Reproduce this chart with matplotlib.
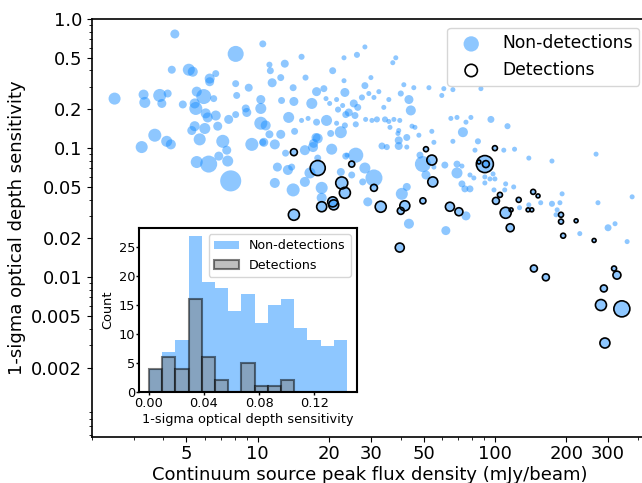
import numpy as np
import matplotlib
matplotlib.use('Agg')
import matplotlib.pyplot as plt
from matplotlib.ticker import NullFormatter

# ---------------- data: non-detections (flux mJy/beam, tau, marker area) -------------
nd_flux = [4.47, 8.07, 10.5, 4.34, 5.12, 5.32, 6.27, 6.27, 6.65, 8.07, 9.16, 2.49, 3.30, 3.34,
           3.86, 3.94, 4.17, 4.83, 5.53, 5.92, 6.52, 5.42, 5.48, 6.15, 6.03, 6.65, 7.54, 8.07,
           8.15, 8.90, 8.99, 10.3, 10.3, 10.3, 5.42, 5.27, 5.98, 6.78, 3.68, 3.24, 4.13, 4.30,
           5.69, 7.12, 7.40, 9.44, 10.5, 5.53, 6.21, 6.85, 7.47, 7.69,
           28.3, 26.2, 23.1, 38.2, 37.1, 15.3, 11.2, 13.0, 11.3, 20.7, 12.5, 15.9, 30.0, 23.1,
           11.5, 28.3, 41.3, 45.5, 14.1, 19.0, 17.7, 23.3, 29.4, 32.4, 40.1, 27.5, 30.9, 35.7,
           43.4, 12.6, 14.2, 16.9, 19.4, 20.1, 21.5, 25.4, 26.4, 22.8, 21.8, 23.5, 24.2, 25.7,
           28.5, 30.3, 31.8, 34.4, 35.7, 34.0, 44.2, 37.5, 39.7, 44.7, 46.0, 39.3, 36.1, 16.3,
           17.7, 19.5, 21.5, 23.3, 25.9, 22.4, 20.3, 13.5, 10.8, 11.2, 12.5, 14.3, 10.6, 11.8,
           17.9, 17.2, 15.8, 13.1, 20.5, 17.9, 16.6, 15.8, 12.1, 13.4, 13.9, 11.8, 14.1, 18.6,
           23.5, 25.9, 28.3, 30.9, 24.9, 27.7, 22.4, 42.5, 40.5, 49.7, 48.3, 33.4, 35.0, 18.6,
           39.3, 39.3, 42.5, 47.8, 39.0, 42.5, 17.1, 17.6, 15.3, 29.1, 43.4, 23.8,
           52.7, 60.9, 66.5, 59.7, 87.3, 65.2, 69.2, 79.2, 75.5, 96.2, 113, 54.2, 73.3, 55.3,
           66.5, 84.8, 109, 121, 82.4, 61.5, 69.2, 72.6, 69.2, 51.2, 55.3, 98.2, 90.7, 95.3,
           100, 90.7, 78.5, 81.5, 139, 174, 267, 72.6, 74.7, 78.5, 99.1, 110, 120, 111,
           127, 139, 156, 174, 188, 183, 181, 192, 272, 379, 75.5, 62.1, 228, 300, 321, 361]
nd_tau = [0.766, 0.537, 0.642, 0.405, 0.405, 0.391, 0.346, 0.327, 0.378, 0.316, 0.294, 0.242,
          0.260, 0.226, 0.256, 0.222, 0.265, 0.218, 0.274, 0.251, 0.242, 0.222, 0.203, 0.173,
          0.186, 0.179, 0.167, 0.182, 0.256, 0.203, 0.189, 0.238, 0.203, 0.156, 0.148, 0.137,
          0.142, 0.148, 0.126, 0.102, 0.113, 0.107, 0.117, 0.113, 0.0965, 0.107, 0.111, 0.0781,
          0.0753, 0.0868, 0.0795, 0.0558,
          0.608, 0.528, 0.501, 0.501, 0.459, 0.510, 0.443, 0.451, 0.398, 0.398, 0.352, 0.352,
          0.352, 0.333, 0.321, 0.305, 0.310, 0.294, 0.294, 0.289, 0.274, 0.270, 0.265, 0.274,
          0.265, 0.247, 0.247, 0.238, 0.238, 0.234, 0.230, 0.222, 0.242, 0.222, 0.238, 0.222,
          0.207, 0.214, 0.199, 0.182, 0.189, 0.179, 0.167, 0.164, 0.167, 0.167, 0.161, 0.207,
          0.196, 0.167, 0.164, 0.148, 0.145, 0.137, 0.145, 0.170, 0.159, 0.164, 0.156, 0.150,
          0.153, 0.133, 0.130, 0.173, 0.150, 0.128, 0.128, 0.135, 0.111, 0.107, 0.119, 0.109,
          0.0965, 0.0915, 0.0982, 0.0838, 0.0643, 0.0548, 0.0714, 0.0678, 0.0714, 0.0538,
          0.0475, 0.0493, 0.0868, 0.0883, 0.0702, 0.0588, 0.0620, 0.0548, 0.0654, 0.0501,
          0.0443, 0.0753, 0.0883, 0.104, 0.102, 0.0413, 0.115, 0.104, 0.121, 0.126, 0.130,
          0.102, 0.102, 0.121, 0.164, 0.0384, 0.0260, 0.0883,
          0.294, 0.289, 0.284, 0.256, 0.289, 0.170, 0.173, 0.173, 0.159, 0.167, 0.148, 0.135,
          0.133, 0.111, 0.113, 0.113, 0.0965, 0.0982, 0.0965, 0.0740, 0.0753, 0.0727, 0.0643,
          0.0620, 0.0714, 0.0632, 0.0599, 0.0578, 0.0578, 0.0538, 0.0620, 0.0588, 0.0838,
          0.0795, 0.0899, 0.0529, 0.0484, 0.0484, 0.0475, 0.0475, 0.0501, 0.0529, 0.0346,
          0.0364, 0.0378, 0.0371, 0.0378, 0.0333, 0.0305, 0.0443, 0.0378, 0.0420, 0.0299,
          0.0230, 0.0218, 0.0242, 0.0260, 0.0189]
nd_size = [42, 133, 25, 33, 75, 52, 52, 42, 25, 25, 33, 75, 52, 63, 88, 42, 33, 33, 52, 117,
           25, 52, 88, 52, 52, 52, 42, 25, 25, 33, 42, 42, 63, 88, 52, 42, 63, 42, 88, 75, 63,
           52, 75, 88, 42, 88, 25, 75, 150, 42, 63, 230,
           13, 19, 13, 13, 13, 19, 19, 33, 25, 25, 25, 19, 13, 13, 42, 25, 13, 13, 25, 25, 42,
           42, 13, 13, 19, 19, 13, 13, 42, 25, 42, 63, 13, 13, 13, 33, 25, 13, 19, 25, 33, 25,
           13, 13, 19, 19, 13, 13, 52, 13, 13, 13, 13, 13, 13, 13, 25, 63, 13, 19, 19, 75, 25,
           63, 52, 33, 42, 25, 42, 52, 52, 42, 52, 25, 63, 25, 63, 52, 42, 52, 25, 52, 88, 75,
           25, 117, 63, 150, 25, 25, 33, 33, 75, 133, 25, 25, 19, 52, 33, 33, 25, 13, 13, 13,
           52, 42, 13, 42, 52, 13,
           13, 13, 13, 13, 13, 13, 13, 13, 13, 25, 19, 13, 52, 13, 13, 19, 13, 13, 13, 25, 25,
           13, 63, 42, 13, 13, 13, 13, 13, 13, 13, 13, 13, 13, 13, 25, 25, 25, 13, 13, 13, 13,
           13, 13, 13, 19, 13, 13, 13, 13, 13, 13, 42, 42, 13, 25, 13, 13]

# ---------------- data: detections ----------------
det_flux = [14.2, 17.9, 24.9, 22.6, 23.3, 30.9, 18.6, 20.7, 20.9, 14.2, 33.0, 40.1, 41.7, 39.7,
            49.7, 51.2, 54.2, 54.7, 90.7, 91.6, 85.6, 100, 105, 101, 126, 145, 152, 138, 143,
            190, 64.6, 70.5, 111, 117, 116, 190, 220, 194, 262, 146, 164, 318, 327, 288, 280,
            343, 291]
det_tau = [0.0931, 0.0702, 0.0753, 0.0538, 0.0451, 0.0493, 0.0352, 0.0384, 0.0364, 0.0305,
           0.0352, 0.0327, 0.0358, 0.0170, 0.0391, 0.0982, 0.0809, 0.0548, 0.0753, 0.0753,
           0.0781, 0.100, 0.0435, 0.0391, 0.0398, 0.0459, 0.0427, 0.0333, 0.0333, 0.0305,
           0.0352, 0.0322, 0.0316, 0.0333, 0.0242, 0.0270, 0.0274, 0.0210, 0.0193, 0.0117,
           0.0100, 0.0117, 0.0104, 0.0082, 0.0061, 0.0057, 0.0031]
det_size = [25, 117, 19, 75, 63, 25, 52, 52, 52, 63, 63, 25, 52, 42, 19, 13, 52, 52, 150, 25, 8,
            13, 13, 25, 13, 13, 8, 8, 8, 13, 42, 33, 63, 8, 33, 13, 8, 13, 8, 25, 25, 13, 33, 25,
            63, 133, 52]

# ---------------- inset histogram ----------------
hist_nd = [4, 7, 9, 27, 19, 18, 14, 17, 12, 15, 16, 11, 9, 8, 9]
hist_det = [4, 6, 4, 16, 6, 2, 0, 5, 1, 1, 2, 0, 0, 0, 0]
hist_range = (0.0, 0.144)

xtick_vals = [5, 10, 20, 30, 50, 100, 200, 300]
xtick_labels = ['5', '10', '20', '30', '50', '100', '200', '300']
ytick_vals = [1.0, 0.5, 0.2, 0.1, 0.05, 0.02, 0.01, 0.005, 0.002]
ytick_labels = ['1.0', '0.5', '0.2', '0.1', '0.05', '0.02', '0.01', '0.005', '0.002']
inset_xticks = [0.00, 0.04, 0.08, 0.12]

blue = 'dodgerblue'

fig = plt.figure(figsize=(6.42, 4.83), dpi=100)
ax = fig.add_axes([0.1433, 0.0952, 0.866, 0.8654])
ax.set_xscale('log')
ax.set_yscale('log')

ax.scatter(nd_flux, nd_tau, s=nd_size, color=blue, alpha=0.5, edgecolors='none',
           label='Non-detections')
ax.scatter(det_flux, det_tau, s=det_size, color=blue, alpha=0.5, edgecolors='none')
ax.scatter(det_flux, det_tau, s=det_size, facecolors='none', edgecolors='black',
           linewidths=1.2, label='Detections')

ax.set_xlim(2.0, 442)
ax.set_ylim(0.00058, 1.0)
ax.set_xticks(xtick_vals)
ax.set_xticklabels(xtick_labels)
ax.set_yticks(ytick_vals)
ax.set_yticklabels(ytick_labels)
ax.xaxis.set_minor_formatter(NullFormatter())
ax.yaxis.set_minor_formatter(NullFormatter())
ax.tick_params(axis='both', which='major', labelsize=13)
ax.tick_params(axis='x', which='major', pad=2.5)
for sp in ax.spines.values():
    sp.set_linewidth(1.2)
ax.set_xlabel('Continuum source peak flux density (mJy/beam)', fontsize=13, labelpad=2)
ax.set_ylabel('1-sigma optical depth sensitivity', fontsize=13)
ax.legend(loc='upper right', fontsize=12.3)

# inset
axin = fig.add_axes([0.2165, 0.1884, 0.3396, 0.3395])
edges = np.linspace(hist_range[0], hist_range[1], len(hist_nd) + 1)
centers = 0.5 * (edges[:-1] + edges[1:])
axin.hist(centers, bins=edges, weights=hist_nd, color=blue, alpha=0.5,
          label='Non-detections')
axin.hist(centers, bins=edges, weights=hist_det, color='grey', alpha=0.5,
          edgecolor='black', linewidth=1.5, label='Detections')
axin.set_xticks(inset_xticks)
axin.set_xticklabels(['%.2f' % v for v in inset_xticks])
axin.tick_params(labelsize=9.3, length=2, width=1)
axin.tick_params(axis='x', pad=1.5)
axin.tick_params(axis='y', pad=0.8)
axin.set_xlabel('1-sigma optical depth sensitivity', fontsize=9.3, labelpad=2.5)
axin.set_ylabel('Count', fontsize=9.3, labelpad=3)
for sp in axin.spines.values():
    sp.set_linewidth(1.5)
axin.legend(loc='upper right', fontsize=9.1)

fig.savefig('out.png', dpi=100)
